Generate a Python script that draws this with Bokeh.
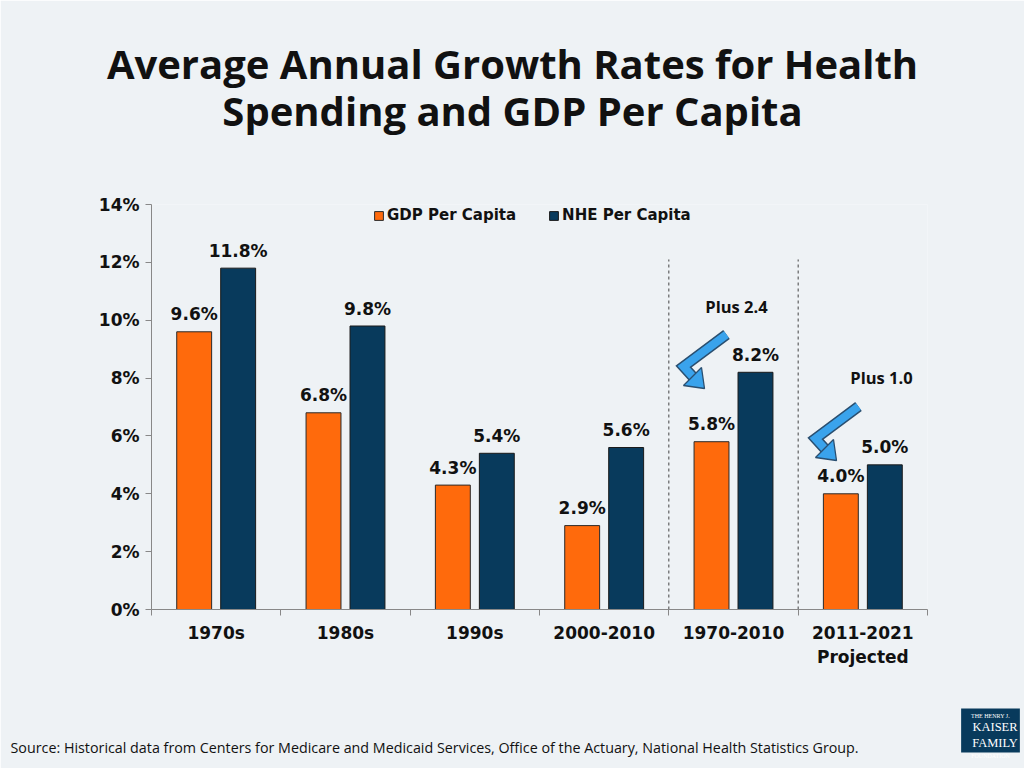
from bokeh.plotting import figure
from bokeh.models import (Range1d, FixedTicker, Label, Legend, LegendItem,
                          ColumnDataSource)
from bokeh.core.properties import value
from bokeh.embed import file_html
from bokeh.resources import INLINE

# ---------------- data ----------------
categories = ["1970s", "1980s", "1990s", "2000-2010", "1970-2010", "2011-2021\nProjected"]
gdp_per_capita = [9.6, 6.8, 4.3, 2.9, 5.8, 4.0]
nhe_per_capita = [11.8, 9.8, 5.4, 5.6, 8.2, 5.0]
y_ticks = [0, 2, 4, 6, 8, 10, 12, 14]
series_names = ["GDP Per Capita", "NHE Per Capita"]
annotations = ["Plus 2.4", "Plus 1.0"]
title_lines = ["Average Annual Growth Rates for Health", "Spending and GDP Per Capita"]
source_text = ("Source: Historical data from Centers for Medicare and Medicaid Services, "
               "Office of the Actuary, National Health Statistics Group.")

# ---------------- style ----------------
BG = "#eef2f5"
ORANGE = "#ff6a0c"
NAVY = "#083a5c"
ARROW = "#3aa3ec"
ARROW_EDGE = "#2a4f70"
BOLD_FONT = "DejaVu Sans"
TITLE_FONT = "Open Sans"

W, H = 1024, 768
FL, FR, FT, FB = 151, 927, 204, 609  # frame in page pixels
n = len(categories)
XMAX, YMAX = float(n), 14.0


def px2x(px):
    return (px - FL) / (FR - FL) * XMAX


def px2y(py):
    return (FB - py) / (FB - FT) * YMAX


def dxp(d):
    return d / (FR - FL) * XMAX


def dyp(d):
    return -d / (FB - FT) * YMAX


p = figure(width=W, height=H, output_backend="svg", toolbar_location=None,
           x_range=Range1d(0, XMAX), y_range=Range1d(0, YMAX),
           min_border_left=FL, min_border_right=W - FR,
           min_border_top=FT, min_border_bottom=H - FB)
p.background_fill_color = BG
p.border_fill_color = BG
p.outline_line_color = None
p.grid.visible = False

centers = [i + 0.5 for i in range(n)]
off = 0.17
bw = 0.27
src = ColumnDataSource(dict(
    xg=[c - off for c in centers], xn=[c + off for c in centers],
    gdp=gdp_per_capita, nhe=nhe_per_capita,
    lg=[f"{v:.1f}%" for v in gdp_per_capita],
    ln=[f"{v:.1f}%" for v in nhe_per_capita]))

r1 = p.vbar(x="xg", top="gdp", width=bw, source=src, fill_color=ORANGE,
            line_color="#2a2a2a", line_width=1)
r2 = p.vbar(x="xn", top="nhe", width=bw, source=src, fill_color=NAVY,
            line_color="#1a1a1a", line_width=1)

for xcol, ycol, lcol in (("xg", "gdp", "lg"), ("xn", "nhe", "ln")):
    p.text(x=xcol, y=ycol, text=lcol, source=src, text_align="center",
           text_baseline="alphabetic", y_offset=-17.5,
           text_font=value(BOLD_FONT), text_font_style="bold",
           text_font_size="17px", text_color="#111111")

# dashed separators before the last two groups
p.segment(x0=[n - 2, n - 1], x1=[n - 2, n - 1], y0=[0, 0], y1=[12.1, 12.1],
          line_color="#444444", line_dash="3 3", line_width=1)

# axes
xa = p.xaxis[0]
xa.ticker = FixedTicker(ticks=centers, minor_ticks=list(range(n + 1)))
xa.major_label_overrides = {c: cat for c, cat in zip(centers, categories)}
xa.major_tick_out = 0
xa.major_tick_in = 0
xa.minor_tick_out = 6
xa.minor_tick_in = 0
xa.minor_tick_line_color = "#888888"
xa.axis_line_color = "#888888"
xa.major_label_standoff = 7
xa.major_label_text_font = BOLD_FONT
xa.major_label_text_font_style = "bold"
xa.major_label_text_font_size = "17px"
xa.major_label_text_color = "#111111"

ya = p.yaxis[0]
ya.ticker = FixedTicker(ticks=y_ticks, minor_ticks=[])
ya.major_label_overrides = {t: f"{t}%" for t in y_ticks}
ya.major_tick_out = 6
ya.major_tick_in = 0
ya.major_tick_line_color = "#888888"
ya.axis_line_color = "#888888"
ya.major_label_standoff = 6
ya.major_label_text_font = BOLD_FONT
ya.major_label_text_font_style = "bold"
ya.major_label_text_font_size = "17px"
ya.major_label_text_color = "#111111"

# legend
legend = Legend(items=[LegendItem(label=series_names[0], renderers=[r1]),
                       LegendItem(label=series_names[1], renderers=[r2])],
                orientation="horizontal", location=(222, 385))
legend.glyph_width = 11
legend.glyph_height = 11
legend.label_height = 15
legend.label_standoff = 3
legend.spacing = 32
legend.padding = 0
legend.margin = 0
legend.border_line_color = None
legend.background_fill_alpha = 0
legend.label_text_font = BOLD_FONT
legend.label_text_font_style = "bold"
legend.label_text_font_size = "15px"
legend.label_text_color = "#111111"
p.add_layout(legend, "center")

# arrows (bent callouts)
arrow_tips = [(px2x(704), px2y(388)), (px2x(836), px2y(460))]
shape_px = [(22, -54), (-21, -22), (-11, -11)]  # start, elbow, head-base (relative to tip)
for tx, ty in arrow_tips:
    xs = [tx + dxp(a) for a, b in shape_px]
    ys = [ty + dyp(b) for a, b in shape_px]
    p.line(xs, ys, line_color=ARROW_EDGE, line_width=11, line_join="miter")
    p.line(xs, ys, line_color=ARROW, line_width=8, line_join="miter")
    hx = [(0, 0), (-21, -3), (-3, -21)]
    p.patch([tx + dxp(a) for a, b in hx], [ty + dyp(b) for a, b in hx],
            fill_color=ARROW, line_color=ARROW_EDGE, line_width=1.3)

ann_pos = [(736, 306), (881, 377)]
for txt, (ax, ay) in zip(annotations, ann_pos):
    p.add_layout(Label(x=px2x(ax), y=px2y(ay), text=txt, text_align="center",
                       text_baseline="middle", text_font=TITLE_FONT,
                       text_font_style="bold", text_font_size="16.5px",
                       text_color="#111111"))

# --- texts outside the frame: labels in side panels, positioned in data units ---
for txt, ty in zip(title_lines, (63, 110)):
    p.add_layout(Label(x=px2x(512), y=px2y(ty), text=txt, text_align="center",
                       text_baseline="middle", text_font=TITLE_FONT,
                       text_font_style="bold", text_font_size="40px",
                       text_color="#111111"), "above")

p.add_layout(Label(x=px2x(10), y=px2y(747), text=source_text, text_align="left",
                   text_baseline="middle", text_font=TITLE_FONT,
                   text_font_size="14.3px", text_color="#111111"), "below")

# logo
p.add_layout(Label(x=px2x(990), y=px2y(730), text="KAISER\nFAMILY", text_align="center",
                   text_baseline="middle", text_font="Liberation Serif",
                   text_font_size="12.5px", text_color="white",
                   text_line_height=1.2, background_fill_color=NAVY,
                   padding=(11, 2, 11, 2)), "below")
p.add_layout(Label(x=px2x(990), y=px2y(715), text="THE HENRY J.", text_align="center",
                   text_baseline="middle", text_font="Liberation Serif",
                   text_font_size="6px", text_color="white"), "below")
p.add_layout(Label(x=px2x(990), y=px2y(755), text="FOUNDATION", text_align="center",
                   text_baseline="middle", text_font="Liberation Serif",
                   text_font_size="6px", text_color="white"), "below")

html = file_html(p, INLINE)
html = html.replace("<body>", '<body style="background-color:%s;">' % BG, 1)
open("out.html", "w").write(html)
